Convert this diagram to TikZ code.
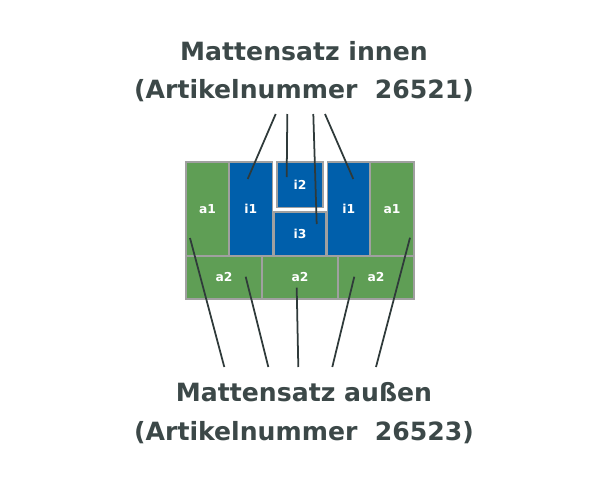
\documentclass[tikz,border=0pt]{standalone}
\usepackage{fontspec}
\setmainfont{DejaVu Sans}
\usepackage{tikz}

\definecolor{matgreen}{HTML}{5F9E55}
\definecolor{matblue}{HTML}{005FAB}
\definecolor{matgray}{HTML}{A0A0A0}
\definecolor{titlegray}{HTML}{3C4848}
\definecolor{linegray}{HTML}{2F3A3A}

\tikzset{
  mat/.style={draw=matgray, line width=1.1pt, inner sep=0pt, text=white,
    font=\fontsize{7}{8}\selectfont\bfseries},
  aussen/.style={mat, fill=matgreen},
  innen/.style={mat, fill=matblue},
  title/.style={anchor=base, text=titlegray, font=\fontsize{14.3}{17}\selectfont\bfseries},
  pointer/.style={draw=linegray, line width=1pt}
}

\begin{document}
\begin{tikzpicture}
\useasboundingbox (0,0) rectangle (12,9.6);
% titles
\node[title] (ti1) at (6.08,8.386) {Mattensatz innen};
\node[title] (ti2) at (6.08,7.634) {(Artikelnummer\ \ 26521)};
\node[title] (ta1) at (6.08,1.566) {Mattensatz außen};
\node[title] (ta2) at (6.08,0.8) {(Artikelnummer\ \ 26523)};
% outer mats, top row
\node[aussen, minimum width=0.86cm, minimum height=1.88cm] (a1l) at (4.15,5.42) {a1};
\node[aussen, minimum width=0.88cm, minimum height=1.88cm] (a1r) at (7.84,5.42) {a1};
% outer mats, bottom row
\node[aussen, minimum width=1.52cm, minimum height=0.86cm] (a2l) at (4.48,4.05) {a2};
\node[aussen, minimum width=1.52cm, minimum height=0.86cm] (a2m) at (6.0,4.05) {a2};
\node[aussen, minimum width=1.52cm, minimum height=0.86cm] (a2r) at (7.52,4.05) {a2};
% inner mats
\node[innen, minimum width=0.87cm, minimum height=1.88cm] (i1l) at (5.015,5.42) {i1};
\node[innen, minimum width=0.85cm, minimum height=1.88cm] (i1r) at (6.975,5.42) {i1};
\node[innen, minimum width=0.92cm, minimum height=0.91cm] (i2) at (6.0,5.905) {i2};
\node[innen, minimum width=1.04cm, minimum height=0.88cm] (i3) at (6.0,4.92) {i3};
% pointer ends, top
\coordinate (st1) at (5.514,7.32);
\coordinate (st2) at (5.746,7.32);
\coordinate (st3) at (6.266,7.32);
\coordinate (st4) at (6.5,7.32);
\coordinate (et1) at (4.954,6.02);
\coordinate (et2) at (5.734,6.06);
\coordinate (et3) at (6.334,5.12);
\coordinate (et4) at (7.066,6.02);
% pointer ends, bottom
\coordinate (sb1) at (4.486,2.26);
\coordinate (sb2) at (5.366,2.26);
\coordinate (sb3) at (5.966,2.26);
\coordinate (sb4) at (6.646,2.26);
\coordinate (sb5) at (7.52,2.26);
\coordinate (eb1) at (3.8,4.84);
\coordinate (eb2) at (4.914,4.066);
\coordinate (eb3) at (5.934,3.846);
\coordinate (eb4) at (7.086,4.066);
\coordinate (eb5) at (8.2,4.846);
% pointers
\draw[pointer] (st1) -- (et1);
\draw[pointer] (st2) -- (et2);
\draw[pointer] (st3) -- (et3);
\draw[pointer] (st4) -- (et4);
\draw[pointer] (sb1) -- (eb1);
\draw[pointer] (sb2) -- (eb2);
\draw[pointer] (sb3) -- (eb3);
\draw[pointer] (sb4) -- (eb4);
\draw[pointer] (sb5) -- (eb5);
\end{tikzpicture}
\end{document}
